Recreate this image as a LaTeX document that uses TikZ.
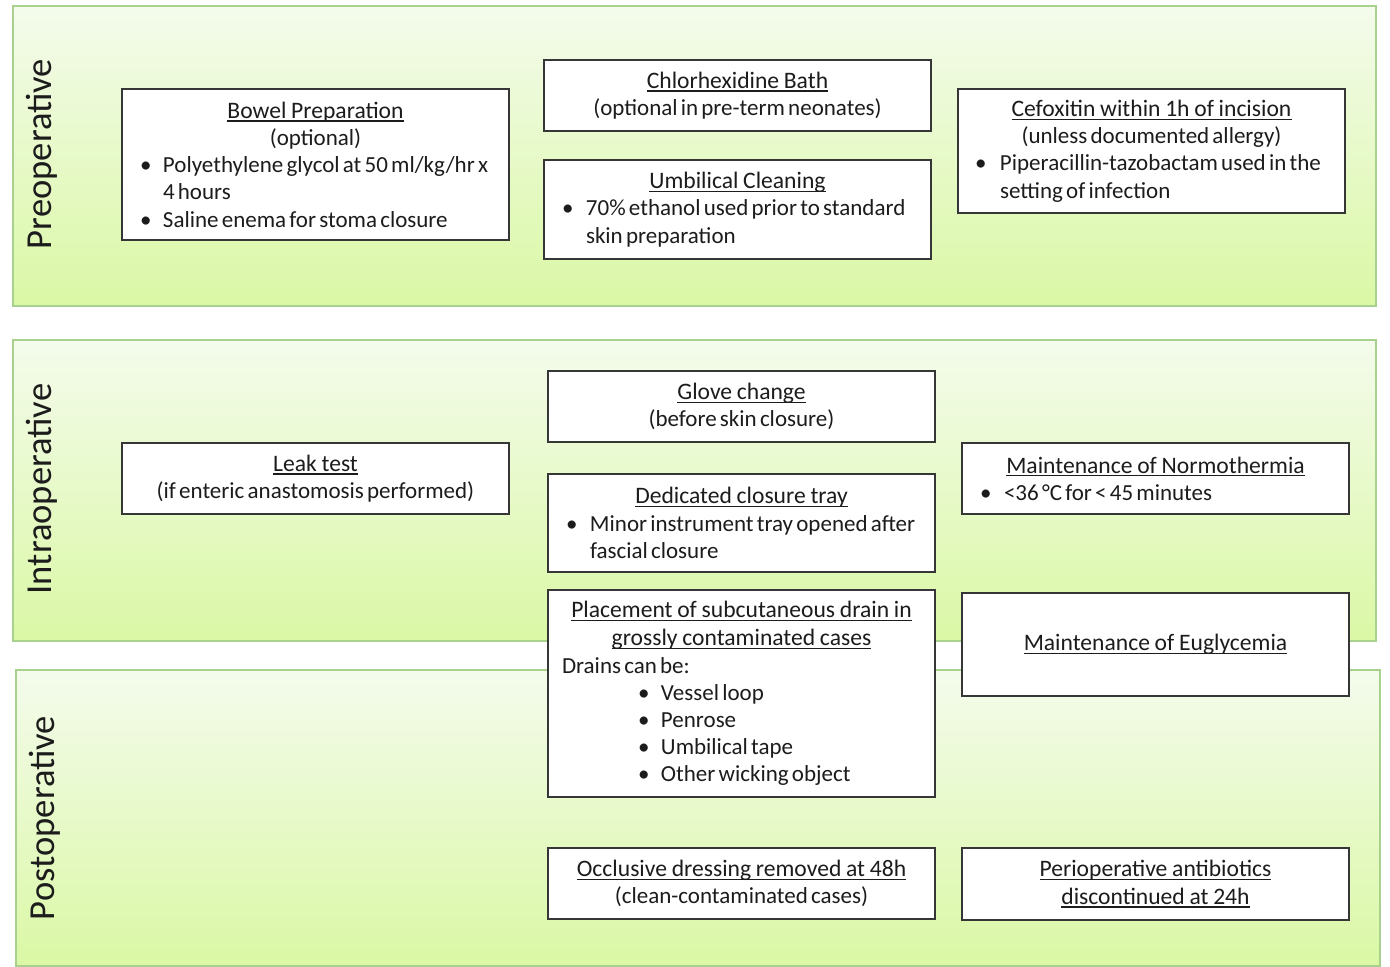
\documentclass[tikz,border=0pt]{standalone}
\usepackage{fontspec}
\setmainfont{Carlito}
\definecolor{pborder}{HTML}{A9D18E}
\definecolor{ptop}{HTML}{F4FBEC}
\definecolor{pbot}{HTML}{DAF8A5}
\definecolor{boxline}{HTML}{363636}
\definecolor{txt}{HTML}{1C1C1C}
\newcommand{\tightsp}{\spaceskip=0.14em plus 0.04em minus 0.02em\relax}
\newcommand{\ttl}[1]{\leavevmode{\fontsize{11.8}{13.6}\selectfont\spaceskip=0.2em plus 0.05em minus 0.02em\relax\setbox0\hbox{#1}\rlap{\rule[-1.7pt]{\wd0}{0.6pt}}\box0}}
\newcommand{\bitem}[3]{\par\noindent\hangindent=#2\hangafter=1\makebox[#2][l]{\hspace*{#1}•}#3\par}
\tikzset{
  panel/.style={top color=ptop, bottom color=pbot, draw=pborder, line width=1pt},
  stagelabel/.style={rotate=90, text=txt, font=\fontsize{18.3}{21}\selectfont},
  boxnode/.style={draw=boxline, line width=1pt, fill=white, text=txt, inner xsep=0pt, inner ysep=0pt,
    text width=193.5pt, font=\fontsize{11.5}{13.6}\selectfont, execute at begin node=\tightsp},
}
\begin{document}
\begin{tikzpicture}[x=0.5pt, y=-0.5pt]
\useasboundingbox (0,0) rectangle (1390,967);
% panels
\shade[panel] (13,6) rectangle (1376,306);
\shade[panel] (13,340) rectangle (1376,641);
\shade[panel] (16,670) rectangle (1380,966);
% stage labels
\node[stagelabel] (lpre) at (42,154) {Preoperative};
\node[stagelabel] (lintra) at (42,489) {Intraoperative};
\node[stagelabel] (lpost) at (45,818) {Postoperative};
% preoperative
\node[boxnode, minimum height=75.5pt] (bowel) at (315.5,164.5) {\centering\ttl{Bowel Preparation}\\(optional)\par\raggedright
  \bitem{9pt}{20.5pt}{Polyethylene glycol at 50 ml/kg/hr x\break 4 hours}
  \bitem{9pt}{20.5pt}{Saline enema for stoma closure}};
\node[boxnode, minimum height=35.5pt] (chlor) at (737.5,95.5) {\centering\ttl{Chlorhexidine Bath}\\(optional in pre-term neonates)\par};
\node[boxnode, minimum height=49.5pt] (umb) at (737.5,209.5) {\centering\ttl{Umbilical Cleaning}\par\raggedright
  \bitem{9pt}{21pt}{70\% ethanol used prior to standard\break skin preparation}};
\node[boxnode, minimum height=62pt] (cef) at (1151.5,151) {\centering\ttl{Cefoxitin within 1h of incision}\\(unless documented allergy)\par\raggedright
  \bitem{8.5pt}{21pt}{Piperacillin-tazobactam used in the\break setting of infection}};
% intraoperative
\node[boxnode, minimum height=35.5pt] (leak) at (315.5,478.5) {\centering\ttl{Leak test}\\(if enteric anastomosis performed)\par};
\node[boxnode, minimum height=35.5pt] (glove) at (741.5,406.5) {\centering\ttl{Glove change}\\(before skin closure)\par};
\node[boxnode, minimum height=49pt] (tray) at (741.5,523) {\centering\ttl{Dedicated closure tray}\par\raggedright
  \bitem{9pt}{21pt}{Minor instrument tray opened after\break fascial closure}};
\node[boxnode, minimum height=35.5pt] (normo) at (1155.5,478.5) {\centering\ttl{Maintenance of Normothermia}\par\raggedright
  \bitem{9pt}{21pt}{<36 °C for < 45 minutes}};
\node[boxnode, minimum height=103.5pt] (drain) at (741.5,693.5) {\centering\ttl{Placement of subcutaneous drain in}\\[0.5pt]\ttl{grossly contaminated cases}\par\raggedright
  \noindent\hspace*{7pt}Drains can be:\par
  \bitem{45pt}{56.5pt}{Vessel loop}
  \bitem{45pt}{56.5pt}{Penrose}
  \bitem{45pt}{56.5pt}{Umbilical tape}
  \bitem{45pt}{56.5pt}{Other wicking object}};
\node[boxnode, minimum height=51.5pt] (eugly) at (1155.5,644.5) {\centering\ttl{Maintenance of Euglycemia}\par};
% postoperative
\node[boxnode, minimum height=35.5pt] (occl) at (741.5,883.5) {\centering\ttl{Occlusive dressing removed at 48h}\\(clean-contaminated cases)\par};
\node[boxnode, minimum height=36pt] (abx) at (1155.5,884) {\centering\ttl{Perioperative antibiotics}\\\ttl{discontinued at 24h}\par};
\end{tikzpicture}
\end{document}
